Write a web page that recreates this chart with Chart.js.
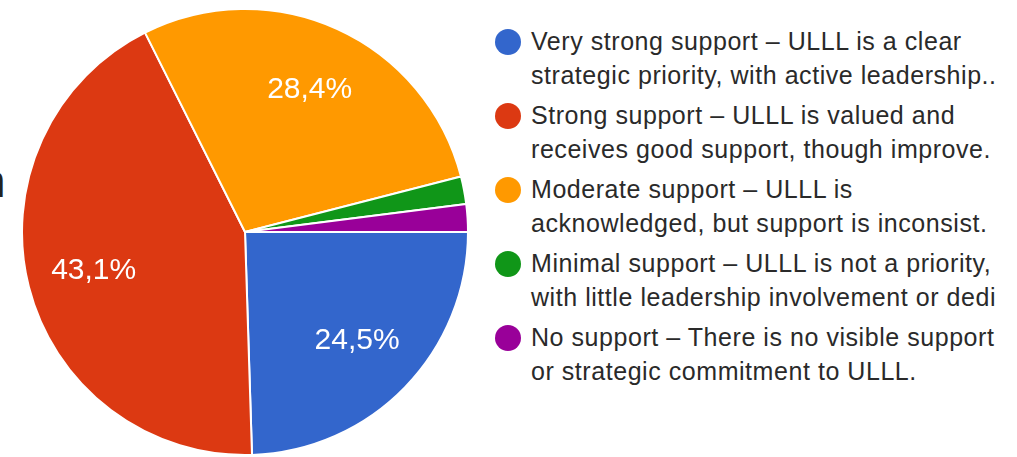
<!DOCTYPE html>
<html>
<head>
<meta charset="utf-8">
<script src="https://cdn.jsdelivr.net/npm/chart.js@4.4.1/dist/chart.umd.min.js"></script>
<style>
  html, body { margin: 0; padding: 0; background: #fff; }
  body { width: 1017px; height: 457px; position: relative; overflow: hidden; font-family: "Liberation Sans", Arial, sans-serif; }
  #wrap { position: absolute; left: 0; top: 0; width: 490px; height: 457px; }
  #cut { position: absolute; left: -20px; top: 151px; font-size: 46px; line-height: 60px; color: #222; }
  #legend { position: absolute; left: 495px; top: 0; width: 560px; }
  .item { position: absolute; left: 0; height: 70px; }
  .dot { position: absolute; left: 0; width: 26px; height: 26px; border-radius: 50%; }
  .txt { position: absolute; left: 36px; font-size: 25px; letter-spacing: 0.55px; line-height: 34px; color: #2a2a2a; white-space: nowrap; }
</style>
</head>
<body>
<div id="cut">n</div>
<div id="wrap"><canvas id="chart"></canvas></div>
<div id="legend"></div>
<script>
const categories = [
  ['Very strong support – ULLL is a clear', 'strategic priority, with active leadership..'],
  ['Strong support – ULLL is valued and', 'receives good support, though improve.'],
  ['Moderate support – ULLL is', 'acknowledged, but support is inconsist.'],
  ['Minimal support – ULLL is not a priority,', 'with little leadership involvement or dedi'],
  ['No support – There is no visible support', 'or strategic commitment to ULLL.']
];
const shares = [24.5, 43.1, 28.4, 2.0, 2.0];
const sliceLabels = ['24,5%', '43,1%', '28,4%', '', ''];
const colors = ['#3366cc', '#dc3912', '#ff9900', '#109618', '#990099'];

// white percentage text inside the big slices
const sliceText = {
  id: 'sliceText',
  afterDatasetsDraw(chart) {
    const ctx = chart.ctx;
    const meta = chart.getDatasetMeta(0);
    ctx.save();
    ctx.fillStyle = '#fff';
    ctx.font = '30px "Liberation Sans", Arial, sans-serif';
    ctx.textAlign = 'center';
    ctx.textBaseline = 'middle';
    meta.data.forEach((arc, i) => {
      if (!sliceLabels[i]) return;
      const mid = (arc.startAngle + arc.endAngle) / 2;
      const r = arc.outerRadius * 0.70;
      ctx.fillText(sliceLabels[i], arc.x + Math.cos(mid) * r, arc.y + Math.sin(mid) * r);
    });
    ctx.restore();
  }
};

new Chart(document.getElementById('chart'), {
  type: 'pie',
  data: {
    labels: categories.map(c => c.join(' ')),
    datasets: [{
      data: shares,
      backgroundColor: colors,
      borderColor: '#fff',
      borderWidth: 2
    }]
  },
  options: {
    responsive: true,
    maintainAspectRatio: false,
    animation: false,
    rotation: 90,
    layout: { padding: { left: 20, right: 20, top: 8, bottom: 1 } },
    plugins: {
      legend: { display: false },
      tooltip: { enabled: false }
    }
  },
  plugins: [sliceText]
});

const legend = document.getElementById('legend');
categories.forEach((lines, i) => {
  const item = document.createElement('div');
  item.className = 'item';
  item.style.top = (22 + i * 74) + 'px';
  item.innerHTML = `<div class="dot" style="background:${colors[i]};top:7px"></div>
    <div class="txt" style="top:2px">${lines[0]}<br>${lines[1]}</div>`;
  legend.appendChild(item);
});
</script>
</body>
</html>
